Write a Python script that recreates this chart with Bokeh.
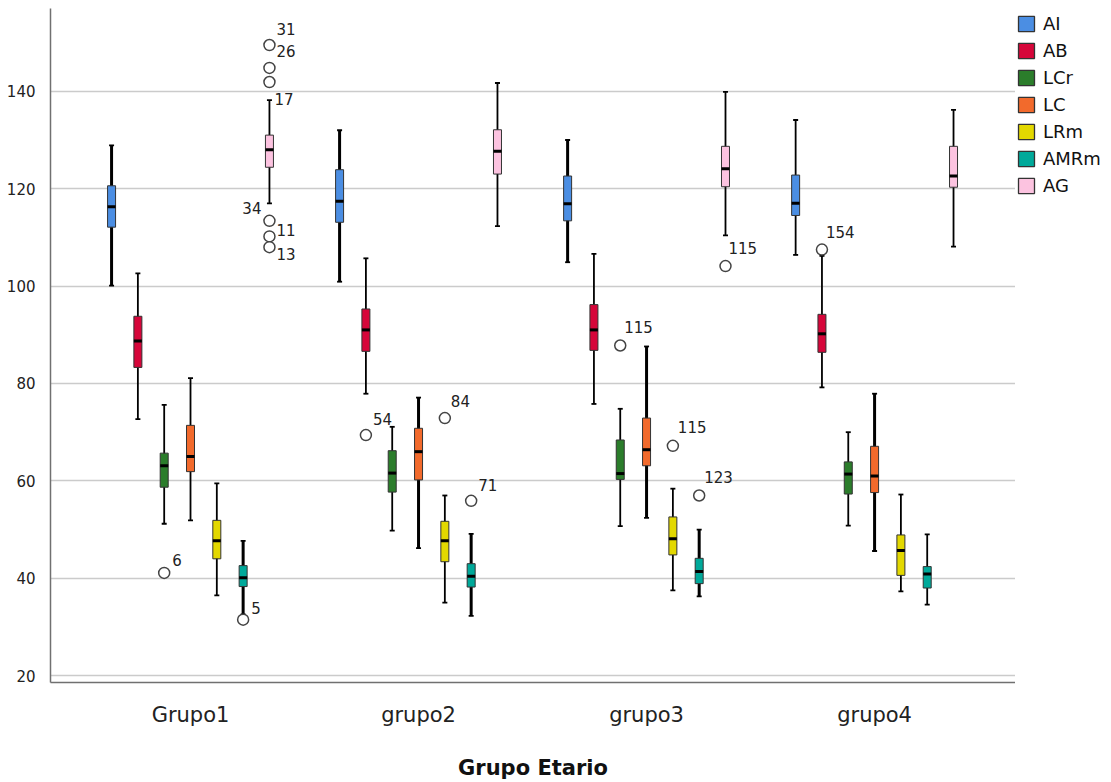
from bokeh.plotting import figure
from bokeh.layouts import row
from bokeh.models import (ColumnDataSource, FixedTicker, Legend, LegendItem)
from bokeh.embed import file_html
from bokeh.resources import INLINE

# Age groups and measured variables
groups = ["Grupo1", "grupo2", "grupo3", "grupo4"]
series = ["AI", "AB", "LCr", "LC", "LRm", "AMRm", "AG"]

# Box-plot statistics per variable, one value per age group
lower = {
    "AI":   [100.1, 100.9, 104.9, 106.4],
    "AB":   [72.7, 77.9, 75.8, 79.2],
    "LCr":  [51.2, 49.8, 50.7, 50.8],
    "LC":   [51.9, 46.2, 52.4, 45.6],
    "LRm":  [36.5, 35.0, 37.5, 37.3],
    "AMRm": [32.6, 32.3, 36.3, 34.6],
    "AG":   [117.0, 112.3, 110.4, 108.1],
}
q1 = {
    "AI":   [112.1, 113.1, 113.4, 114.5],
    "AB":   [83.3, 86.6, 86.8, 86.4],
    "LCr":  [58.7, 57.7, 60.3, 57.3],
    "LC":   [61.9, 60.2, 63.1, 57.6],
    "LRm":  [44.0, 43.4, 44.8, 40.6],
    "AMRm": [38.3, 38.2, 38.9, 38.0],
    "AG":   [124.4, 123.0, 120.4, 120.3],
}
median = {
    "AI":   [116.3, 117.4, 116.9, 117.0],
    "AB":   [88.7, 91.0, 91.0, 90.2],
    "LCr":  [63.1, 61.6, 61.5, 61.4],
    "LC":   [65.0, 66.0, 66.4, 61.0],
    "LRm":  [47.7, 47.7, 48.1, 45.7],
    "AMRm": [40.1, 40.4, 41.4, 40.9],
    "AG":   [128.0, 127.7, 124.1, 122.6],
}
q3 = {
    "AI":   [120.6, 123.9, 122.6, 122.8],
    "AB":   [93.8, 95.3, 96.2, 94.2],
    "LCr":  [65.7, 66.2, 68.4, 63.9],
    "LC":   [71.4, 70.8, 72.9, 67.1],
    "LRm":  [51.9, 51.7, 52.6, 48.9],
    "AMRm": [42.6, 43.0, 44.1, 42.4],
    "AG":   [131.0, 132.1, 128.7, 128.7],
}
upper = {
    "AI":   [128.9, 132.0, 130.0, 134.1],
    "AB":   [102.6, 105.7, 106.6, 106.2],
    "LCr":  [75.6, 71.1, 74.8, 70.0],
    "LC":   [81.1, 77.1, 87.6, 77.9],
    "LRm":  [59.5, 57.0, 58.4, 57.2],
    "AMRm": [47.7, 49.1, 50.0, 49.0],
    "AG":   [138.2, 141.7, 139.9, 136.2],
}

# Outliers: group index, variable, value, case number
out_group = [0, 0, 0, 0, 0, 0, 0, 0, 1, 1, 1, 2, 2, 2, 2, 3]
out_series = ["AG", "AG", "AG", "AG", "AG", "AG", "LCr", "AMRm",
              "AB", "LRm", "AMRm", "AG", "LCr", "LRm", "AMRm", "AB"]
out_value = [149.5, 144.8, 141.9, 113.4, 110.2, 108.0, 41.1, 31.5,
             69.4, 72.9, 55.9, 104.1, 87.8, 67.2, 57.0, 107.5]
out_case = ["31", "26", "17", "34", "11", "13", "6", "5",
            "54", "84", "71", "115", "115", "115", "123", "154"]

# Case-label placement relative to each marker (screen pixels)
label_dx = [7, 7, 5, -8, 7, 7, 8, 8, 7, 6, 7, 3, 4, 5, 5, 4]
label_dy = [-16, -17, 17, -13, -6, 7, -13, -12, -16, -17, -16, -18, -19, -19, -18, -18]
label_align = ["left", "left", "left", "right", "left", "left", "left", "left",
               "left", "left", "left", "left", "left", "left", "left", "left"]

colors = {
    "AI": "#4B8EE3", "AB": "#D6063A", "LCr": "#2B7D2B", "LC": "#F26A2C",
    "LRm": "#E3D800", "AMRm": "#00A99A", "AG": "#FCC3E0",
}
# Whiskers drawn heavier for a few boxes
heavy = {("AI", 0), ("AMRm", 0), ("AI", 1), ("LC", 1), ("AMRm", 1),
         ("AI", 2), ("LC", 2), ("AMRm", 2), ("LC", 3)}

STEP = 0.1154        # spacing between boxes inside a group
FONT = "DejaVu Sans"


def xpos(gi, s):
    return gi + 1 + (series.index(s) - 3) * STEP


p = figure(width=1015, height=782, x_range=(0.386, 4.618), y_range=(18.6, 157.0),
           output_backend="svg", toolbar_location=None,
           min_border_left=50, min_border_right=0, min_border_top=8,
           min_border_bottom=93)
p.outline_line_color = None
p.background_fill_color = "white"
p.border_fill_color = "white"

# Axes
p.xaxis.ticker = FixedTicker(ticks=[1, 2, 3, 4])
p.xaxis.major_label_overrides = {i + 1: g for i, g in enumerate(groups)}
p.yaxis.ticker = FixedTicker(ticks=[20, 40, 60, 80, 100, 120, 140])
for ax in (p.xaxis, p.yaxis):
    ax.major_tick_line_color = None
    ax.minor_tick_line_color = None
    ax.axis_line_color = "#707070"
    ax.axis_line_width = 1.5
    ax.major_label_text_font = FONT
    ax.major_label_text_color = "#222222"
p.yaxis.major_label_text_font_size = "15px"
p.yaxis.major_label_standoff = 9
p.xaxis.major_label_text_font_size = "21px"
p.xaxis.major_label_standoff = 14
p.xaxis.axis_label = "Grupo Etario"
p.xaxis.axis_label_text_font = FONT
p.xaxis.axis_label_text_font_style = "bold"
p.xaxis.axis_label_text_font_size = "21px"
p.xaxis.axis_label_text_color = "#111111"
p.xaxis.axis_label_standoff = 26
p.xgrid.grid_line_color = None
p.ygrid.grid_line_color = "#cbcbcb"
p.ygrid.grid_line_width = 1.5

# Legend panel to the right of the chart; its ranges hold no data, so only
# the legend itself is visible there
lp = figure(width=96, height=782, x_range=(10, 11), y_range=(0, 1),
            output_backend="svg", toolbar_location=None,
            x_axis_location=None, y_axis_location=None,
            min_border=0)
lp.outline_line_color = None
lp.grid.visible = False
lp.background_fill_color = "white"
lp.border_fill_color = "white"
items = []

for s in series:
    xs = [xpos(g, s) for g in range(4)]
    widths = [3.0 if (s, g) in heavy else 1.8 for g in range(4)]
    src = ColumnDataSource(dict(
        x=xs, lo=lower[s], q1=q1[s], med=median[s], q3=q3[s], hi=upper[s],
        mid=[(a + b) / 2 for a, b in zip(q1[s], q3[s])],
        h=[b - a for a, b in zip(q1[s], q3[s])],
        lw=widths,
    ))
    p.segment(x0="x", y0="lo", x1="x", y1="hi", source=src,
              line_color="black", line_width="lw")
    p.rect(x="x", y="hi", width=5, height=1.8, width_units="screen",
           height_units="screen", source=src, fill_color="black", line_color=None)
    p.rect(x="x", y="lo", width=5, height=1.8, width_units="screen",
           height_units="screen", source=src, fill_color="black", line_color=None)
    p.rect(x="x", y="mid", width=8, height="h", width_units="screen",
           source=src, fill_color=colors[s], line_color="#333333", line_width=1)
    p.rect(x="x", y="med", width=8, height=3, width_units="screen",
           height_units="screen", source=src, fill_color="black", line_color=None)
    swatch = lp.rect(x="x", y="mid", width=8, height="h", width_units="screen",
                     source=src, fill_color=colors[s], line_color="#333333",
                     line_width=1.3)
    items.append(LegendItem(label=s, renderers=[swatch]))

# Outliers and their case numbers
osrc = ColumnDataSource(dict(
    x=[xpos(g, s) for g, s in zip(out_group, out_series)],
    y=out_value, case=out_case, dx=label_dx, dy=label_dy, align=label_align,
))
p.scatter(x="x", y="y", source=osrc, marker="circle", size=11,
          fill_color="white", line_color="#444444", line_width=1.5)
p.text(x="x", y="y", text="case", source=osrc, x_offset="dx", y_offset="dy",
       text_align="align", text_baseline="middle", text_font_size="15px",
       text_font={"value": FONT}, text_color="#222222")

legend = Legend(items=items, location=(1, 486), orientation="vertical",
                glyph_width=20, glyph_height=19, label_height=19, spacing=6,
                padding=0, margin=0, label_standoff=7,
                label_text_font=FONT, label_text_font_size="18px",
                label_text_color="#111111", border_line_color=None,
                background_fill_alpha=0)
lp.add_layout(legend, "center")

open("out.html", "w").write(file_html(row(p, lp), INLINE))
